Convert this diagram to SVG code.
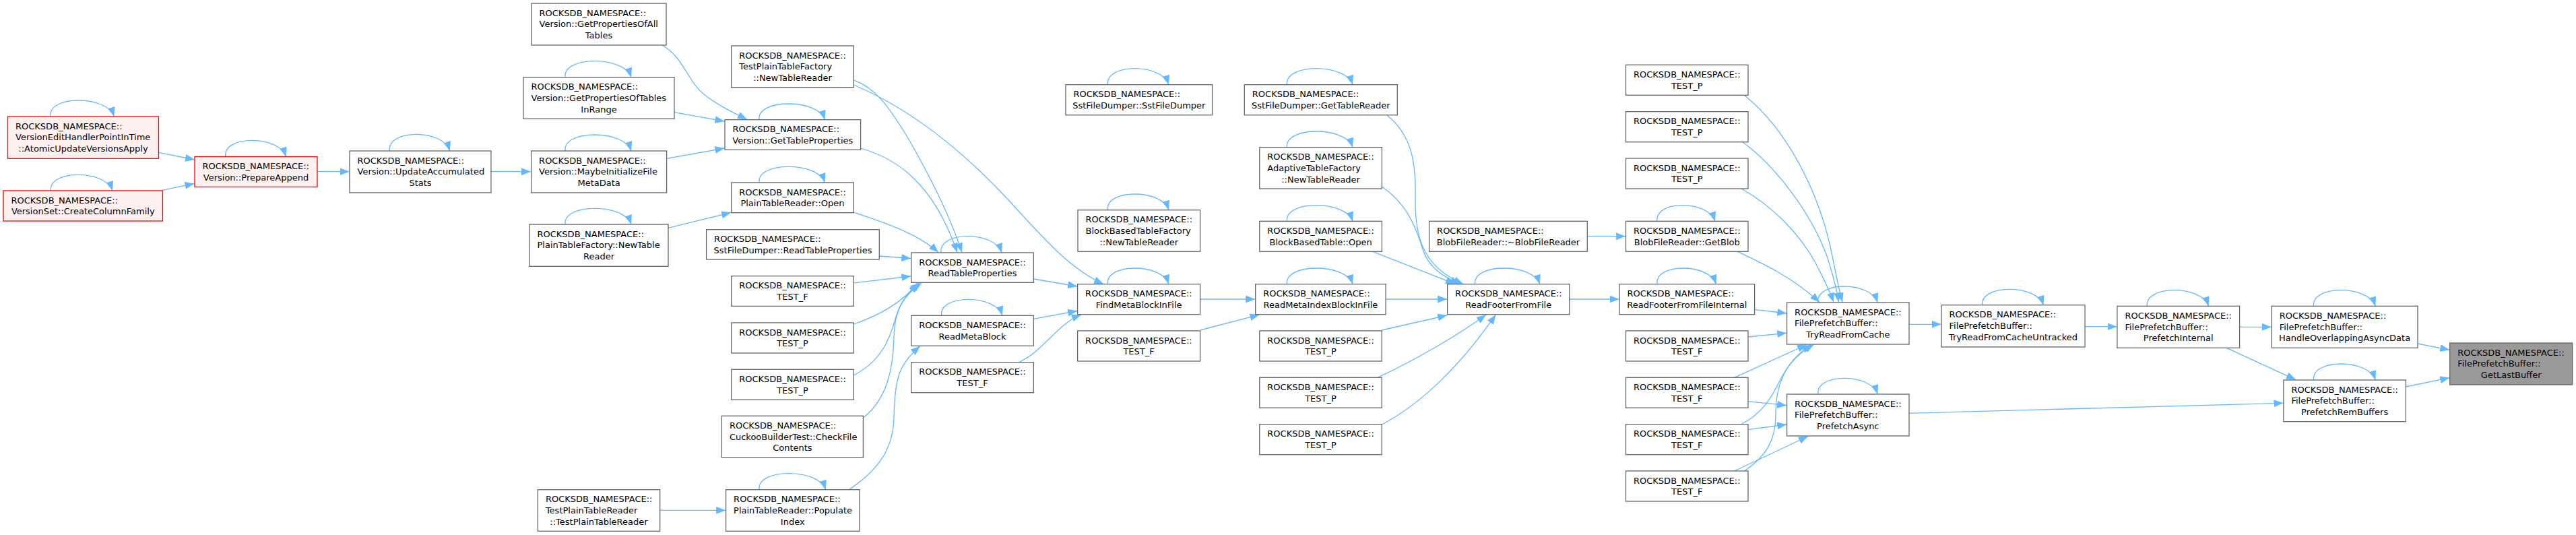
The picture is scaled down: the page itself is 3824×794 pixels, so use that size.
<svg xmlns="http://www.w3.org/2000/svg" width="3824" height="794" viewBox="0 0 3824 794">
<style>
.n rect{fill:#ffffff;stroke:#666666;stroke-width:1.3}
.r rect{fill:#fff0f0;stroke:#ff0000;stroke-width:1.3}
.g rect{fill:#999999;stroke:#666666;stroke-width:1.3}
text{font-family:"DejaVu Sans","Liberation Sans",sans-serif;font-size:13px;fill:#000000}
.c{text-anchor:middle}
#edges path{fill:none;stroke:#63b8ff;stroke-width:1.3;marker-end:url(#ah)}
</style>
<defs>
<marker id="ah" markerUnits="userSpaceOnUse" markerWidth="14" markerHeight="11" refX="14" refY="5.5" orient="auto"><path d="M0,0 L14,5.5 L0,11 z" fill="#63b8ff"/></marker>
</defs>
<rect x="0" y="0" width="3824" height="794" fill="#ffffff"/>
<g id="edges">
<path d="M235.5,226.3 L289,237"/>
<path d="M240.8,282.3 L288.5,272.5"/>
<path d="M471,254.7 L518.5,254.7"/>
<path d="M729,254.7 L788,254.7"/>
<path d="M983,67 C1015,85 1020,120 1045,140 C1065,156 1090,168 1109,177.2"/>
<path d="M1000.8,166.7 L1075.5,180"/>
<path d="M989.4,235.3 L1075.5,220"/>
<path d="M991.8,338.3 L1085.2,315.5"/>
<path d="M979.6,757.3 L1077.2,757.3"/>
<path d="M1277.6,220 C1330,235 1385,270 1421,374.5"/>
<path d="M1267.3,315 C1310,330 1360,345 1393,374.5"/>
<path d="M1305.3,380 L1352.2,383.5"/>
<path d="M1267.3,119 C1300,130 1320,160 1345,200 C1380,260 1410,320 1428,374.5"/>
<path d="M1267.3,126 C1360,165 1440,235 1500,300 C1550,355 1590,400 1638,421.5"/>
<path d="M1267.3,420 L1352.2,410"/>
<path d="M1267.3,481 C1300,470 1340,450 1362,420"/>
<path d="M1267.3,557 C1310,535 1322,500 1330,470 C1338,445 1350,432 1365,420"/>
<path d="M1281.5,620 C1320,590 1326,540 1327,500 C1328,460 1340,440 1368,420"/>
<path d="M1260.4,726.7 C1300,700 1326,670 1327,620 C1328,560 1335,540 1366,513.8"/>
<path d="M1534.3,414 L1599.2,425"/>
<path d="M1534.3,473.3 L1599.2,461.5"/>
<path d="M1512.7,537.7 C1550,520 1570,480 1605,467.2"/>
<path d="M1781.6,444 L1863.2,444"/>
<path d="M1781.6,490 L1869.5,467.2"/>
<path d="M2057.1,444 L2148.2,444"/>
<path d="M2051.2,490 L2148.2,468"/>
<path d="M2045,560.3 C2100,535 2160,500 2206,467.2"/>
<path d="M2051.2,630 C2110,600 2170,540 2220.4,467.2"/>
<path d="M2059,171 C2095,200 2102,240 2101,290 C2100,350 2110,395 2172,421.3"/>
<path d="M2051.4,277 C2085,300 2100,330 2112,370 C2120,395 2140,410 2167,421.3"/>
<path d="M2037.6,373.3 L2160,421.3"/>
<path d="M2329.8,444 L2403.6,444"/>
<path d="M2356.3,350.7 L2413.1,350.7"/>
<path d="M2589.4,141.3 C2650,190 2700,280 2720,380 C2726,410 2730,430 2735,448.5"/>
<path d="M2587,210.7 C2640,250 2690,320 2712,380 C2720,405 2726,425 2729.5,448.5"/>
<path d="M2585,280 C2630,305 2670,345 2695,390 C2705,410 2715,428 2722,448.5"/>
<path d="M2579,373.3 C2610,388 2660,410 2701,448.5"/>
<path d="M2604.6,459.3 L2652.2,465"/>
<path d="M2595,500 L2652.2,494.3"/>
<path d="M2574.7,560.3 L2682,511.5"/>
<path d="M2585,629.5 C2615,615 2630,590 2642,565 C2655,540 2668,525 2688.4,511.5"/>
<path d="M2589.4,699 C2625,675 2636,650 2636,615 C2636,570 2650,535 2692.6,511.5"/>
<path d="M2595,595.7 L2652.2,601.7"/>
<path d="M2595,637.7 L2652.2,630"/>
<path d="M2574.7,699 L2684,647.5"/>
<path d="M2834,481.3 L2881.6,481.3"/>
<path d="M2834,613.3 L3389.5,598.3"/>
<path d="M3095,484.7 L3142.5,484.7"/>
<path d="M3324.6,485.3 L3371.8,485.3"/>
<path d="M3305.3,516.3 L3408,563.6"/>
<path d="M3589,510 L3636.3,519.3"/>
<path d="M3571.4,574 L3636.3,560.7"/>
<path d="M74.7,173 C70.7,141 159.4,141 169.4,173"/>
<path d="M75.5,283 C71.5,251.4 157,251.4 167,283"/>
<path d="M334.7,232.5 C330.7,200.2 414.5,200.2 424.5,232.5"/>
<path d="M578.4,224 C574.4,191.1 657.8,191.1 667.8,224"/>
<path d="M839,114.7 C835,82.7 927,82.7 937,114.7"/>
<path d="M839,224 C835,192 927,192 937,224"/>
<path d="M839,333 C835,301.4 927,301.4 937,333"/>
<path d="M1127,177.7 C1123,146.1 1214.5,146.1 1224.5,177.7"/>
<path d="M1127,271 C1123,239.4 1214.5,239.4 1224.5,271"/>
<path d="M1127,726.7 C1123,694.7 1215.7,694.7 1225.7,726.7"/>
<path d="M1397,375 C1393,342.6 1477,342.6 1487,375"/>
<path d="M1397.6,468.3 C1393.6,436.3 1478,436.3 1488,468.3"/>
<path d="M1644.5,421.7 C1640.5,390.1 1725,390.1 1735,421.7"/>
<path d="M1644.5,125.7 C1640.5,93.7 1725,93.7 1735,125.7"/>
<path d="M1644.5,311.7 C1640.5,280.1 1725,280.1 1735,311.7"/>
<path d="M1910.6,421.7 C1906.6,390.1 1998,390.1 2008,421.7"/>
<path d="M1910.6,125.7 C1906.6,93.7 1998,93.7 2008,125.7"/>
<path d="M1910.6,218.7 C1906.6,187.1 1998,187.1 2008,218.7"/>
<path d="M1910.6,328.3 C1906.6,296.8 1998,296.8 2008,328.3"/>
<path d="M2189.8,421.7 C2185.8,390.1 2275.7,390.1 2285.7,421.7"/>
<path d="M2460,421.7 C2456,390.1 2537.4,390.1 2547.4,421.7"/>
<path d="M2460,328.3 C2456,296.8 2536,296.8 2546,328.3"/>
<path d="M2698.9,449 C2694.9,417 2777.3,417 2787.3,449"/>
<path d="M2943,452.7 C2939,421.5 3023.5,421.5 3033.5,452.7"/>
<path d="M2698.9,585 C2694.9,553.4 2777.3,553.4 2787.3,585"/>
<path d="M3187.4,454.3 C3183.4,422.8 3268.6,422.8 3278.6,454.3"/>
<path d="M3434.6,454.3 C3430.6,422.8 3516.2,422.8 3526.2,454.3"/>
<path d="M3434.6,564 C3430.6,532 3516.2,532 3526.2,564"/>
</g>
<g id="n_auva" class="r"><rect x="11.5" y="173" width="224" height="62.3"/><text x="23" y="191.5">ROCKSDB_NAMESPACE::</text><text x="23" y="208.2">VersionEditHandlerPointInTime</text><text class="c" x="123.5" y="224.9">::AtomicUpdateVersionsApply</text></g>
<g id="n_ccf" class="r"><rect x="5" y="283" width="236.5" height="45"/><text x="16.5" y="301.5">ROCKSDB_NAMESPACE::</text><text class="c" x="123.25" y="318.2">VersionSet::CreateColumnFamily</text></g>
<g id="n_pa" class="r"><rect x="289" y="232.5" width="182" height="45"/><text x="300.5" y="251">ROCKSDB_NAMESPACE::</text><text class="c" x="380" y="267.7">Version::PrepareAppend</text></g>
<g id="n_uas" class="n"><rect x="519" y="224" width="210" height="62"/><text x="530.5" y="242.5">ROCKSDB_NAMESPACE::</text><text x="530.5" y="259.2">Version::UpdateAccumulated</text><text class="c" x="624" y="275.9">Stats</text></g>
<g id="n_gpoat" class="n"><rect x="789" y="5" width="200" height="62"/><text x="800.5" y="23.5">ROCKSDB_NAMESPACE::</text><text x="800.5" y="40.2">Version::GetPropertiesOfAll</text><text class="c" x="889" y="56.9">Tables</text></g>
<g id="n_gpotir" class="n"><rect x="777" y="114.7" width="224" height="61.6"/><text x="788.5" y="133.2">ROCKSDB_NAMESPACE::</text><text x="788.5" y="149.9">Version::GetPropertiesOfTables</text><text class="c" x="889" y="166.6">InRange</text></g>
<g id="n_mifmd" class="n"><rect x="788.6" y="224" width="201" height="62"/><text x="800.1" y="242.5">ROCKSDB_NAMESPACE::</text><text x="800.1" y="259.2">Version::MaybeInitializeFile</text><text class="c" x="889.1" y="275.9">MetaData</text></g>
<g id="n_ptfntr" class="n"><rect x="786" y="333" width="206" height="62.3"/><text x="797.5" y="351.5">ROCKSDB_NAMESPACE::</text><text x="797.5" y="368.2">PlainTableFactory::NewTable</text><text class="c" x="889" y="384.9">Reader</text></g>
<g id="n_gtp" class="n"><rect x="1076" y="177.7" width="201.6" height="44.6"/><text x="1087.5" y="196.2">ROCKSDB_NAMESPACE::</text><text class="c" x="1176.8" y="212.9">Version::GetTableProperties</text></g>
<g id="n_tptfntr" class="n"><rect x="1085.7" y="68" width="181.6" height="61.7"/><text x="1097.2" y="86.5">ROCKSDB_NAMESPACE::</text><text x="1097.2" y="103.2">TestPlainTableFactory</text><text class="c" x="1176.5" y="119.9">::NewTableReader</text></g>
<g id="n_ptro" class="n"><rect x="1085.7" y="271" width="181.6" height="44.7"/><text x="1097.2" y="289.5">ROCKSDB_NAMESPACE::</text><text class="c" x="1176.5" y="306.2">PlainTableReader::Open</text></g>
<g id="n_sfdrtp" class="n"><rect x="1048.6" y="340.7" width="256.7" height="44.3"/><text x="1060.1" y="359.2">ROCKSDB_NAMESPACE::</text><text class="c" x="1177" y="375.9">SstFileDumper::ReadTableProperties</text></g>
<g id="n_testf1" class="n"><rect x="1085.7" y="409.7" width="181.6" height="44.7"/><text x="1097.2" y="428.2">ROCKSDB_NAMESPACE::</text><text class="c" x="1176.5" y="444.9">TEST_F</text></g>
<g id="n_testp1" class="n"><rect x="1085.7" y="479" width="181.6" height="45"/><text x="1097.2" y="497.5">ROCKSDB_NAMESPACE::</text><text class="c" x="1176.5" y="514.2">TEST_P</text></g>
<g id="n_testp2" class="n"><rect x="1085.7" y="548.3" width="181.6" height="45"/><text x="1097.2" y="566.8">ROCKSDB_NAMESPACE::</text><text class="c" x="1176.5" y="583.5">TEST_P</text></g>
<g id="n_cuckoo" class="n"><rect x="1071.4" y="617.3" width="210" height="61.7"/><text x="1082.9" y="635.8">ROCKSDB_NAMESPACE::</text><text x="1082.9" y="652.5">CuckooBuilderTest::CheckFile</text><text class="c" x="1176.4" y="669.2">Contents</text></g>
<g id="n_tptr" class="n"><rect x="798.4" y="726.7" width="181.2" height="61.6"/><text x="809.9" y="745.2">ROCKSDB_NAMESPACE::</text><text x="809.9" y="761.9">TestPlainTableReader</text><text class="c" x="889" y="778.6">::TestPlainTableReader</text></g>
<g id="n_ptrpi" class="n"><rect x="1077.6" y="726.7" width="198.3" height="61.6"/><text x="1089.1" y="745.2">ROCKSDB_NAMESPACE::</text><text x="1089.1" y="761.9">PlainTableReader::Populate</text><text class="c" x="1176.75" y="778.6">Index</text></g>
<g id="n_rtp" class="n"><rect x="1352.7" y="375" width="181.6" height="44.3"/><text x="1364.2" y="393.5">ROCKSDB_NAMESPACE::</text><text class="c" x="1443.5" y="410.2">ReadTableProperties</text></g>
<g id="n_rmb" class="n"><rect x="1352.7" y="468.3" width="181.6" height="45"/><text x="1364.2" y="486.8">ROCKSDB_NAMESPACE::</text><text class="c" x="1443.5" y="503.5">ReadMetaBlock</text></g>
<g id="n_testf2" class="n"><rect x="1352.7" y="537.7" width="181.6" height="45"/><text x="1364.2" y="556.2">ROCKSDB_NAMESPACE::</text><text class="c" x="1443.5" y="572.9">TEST_F</text></g>
<g id="n_fmbif" class="n"><rect x="1599.6" y="421.7" width="182" height="45"/><text x="1611.1" y="440.2">ROCKSDB_NAMESPACE::</text><text class="c" x="1690.6" y="456.9">FindMetaBlockInFile</text></g>
<g id="n_testf3" class="n"><rect x="1599.6" y="491" width="182" height="45"/><text x="1611.1" y="509.5">ROCKSDB_NAMESPACE::</text><text class="c" x="1690.6" y="526.2">TEST_F</text></g>
<g id="n_sfdsfd" class="n"><rect x="1582" y="125.7" width="217.6" height="45"/><text x="1593.5" y="144.2">ROCKSDB_NAMESPACE::</text><text class="c" x="1690.8" y="160.9">SstFileDumper::SstFileDumper</text></g>
<g id="n_bbtfntr" class="n"><rect x="1600" y="311.7" width="181.6" height="61.6"/><text x="1611.5" y="330.2">ROCKSDB_NAMESPACE::</text><text x="1611.5" y="346.9">BlockBasedTableFactory</text><text class="c" x="1690.8" y="363.6">::NewTableReader</text></g>
<g id="n_rmibif" class="n"><rect x="1863.7" y="421.7" width="193.4" height="45"/><text x="1875.2" y="440.2">ROCKSDB_NAMESPACE::</text><text class="c" x="1960.4" y="456.9">ReadMetaIndexBlockInFile</text></g>
<g id="n_testpa" class="n"><rect x="1869.8" y="491" width="181.4" height="45"/><text x="1881.3" y="509.5">ROCKSDB_NAMESPACE::</text><text class="c" x="1960.5" y="526.2">TEST_P</text></g>
<g id="n_testpb" class="n"><rect x="1869.8" y="560.3" width="181.4" height="45"/><text x="1881.3" y="578.8">ROCKSDB_NAMESPACE::</text><text class="c" x="1960.5" y="595.5">TEST_P</text></g>
<g id="n_testpc" class="n"><rect x="1869.8" y="629.7" width="181.4" height="45"/><text x="1881.3" y="648.2">ROCKSDB_NAMESPACE::</text><text class="c" x="1960.5" y="664.9">TEST_P</text></g>
<g id="n_sfdgtr" class="n"><rect x="1847.3" y="125.7" width="227" height="45"/><text x="1858.8" y="144.2">ROCKSDB_NAMESPACE::</text><text class="c" x="1960.8" y="160.9">SstFileDumper::GetTableReader</text></g>
<g id="n_atfntr" class="n"><rect x="1869.8" y="218.7" width="181.6" height="61.3"/><text x="1881.3" y="237.2">ROCKSDB_NAMESPACE::</text><text x="1881.3" y="253.9">AdaptiveTableFactory</text><text class="c" x="1960.6" y="270.6">::NewTableReader</text></g>
<g id="n_bbto" class="n"><rect x="1869.8" y="328.3" width="181.6" height="45"/><text x="1881.3" y="346.8">ROCKSDB_NAMESPACE::</text><text class="c" x="1960.6" y="363.5">BlockBasedTable::Open</text></g>
<g id="n_rfff" class="n"><rect x="2148.6" y="421.7" width="181.2" height="45"/><text x="2160.1" y="440.2">ROCKSDB_NAMESPACE::</text><text class="c" x="2239.2" y="456.9">ReadFooterFromFile</text></g>
<g id="n_bfrdtor" class="n"><rect x="2121.6" y="328.3" width="234.7" height="45"/><text x="2133.1" y="346.8">ROCKSDB_NAMESPACE::</text><text class="c" x="2239" y="363.5">BlobFileReader::~BlobFileReader</text></g>
<g id="n_rfffi" class="n"><rect x="2404" y="421.7" width="200.6" height="45"/><text x="2415.5" y="440.2">ROCKSDB_NAMESPACE::</text><text class="c" x="2504.3" y="456.9">ReadFooterFromFileInternal</text></g>
<g id="n_testfa" class="n"><rect x="2413.5" y="491" width="181.5" height="45"/><text x="2425" y="509.5">ROCKSDB_NAMESPACE::</text><text class="c" x="2504.25" y="526.2">TEST_F</text></g>
<g id="n_testfb" class="n"><rect x="2413.5" y="560.3" width="181.5" height="45"/><text x="2425" y="578.8">ROCKSDB_NAMESPACE::</text><text class="c" x="2504.25" y="595.5">TEST_F</text></g>
<g id="n_testfc" class="n"><rect x="2413.5" y="629.7" width="181.5" height="45"/><text x="2425" y="648.2">ROCKSDB_NAMESPACE::</text><text class="c" x="2504.25" y="664.9">TEST_F</text></g>
<g id="n_testfd" class="n"><rect x="2413.5" y="699" width="181.5" height="45"/><text x="2425" y="717.5">ROCKSDB_NAMESPACE::</text><text class="c" x="2504.25" y="734.2">TEST_F</text></g>
<g id="n_testpx1" class="n"><rect x="2413.5" y="96.3" width="181.5" height="45"/><text x="2425" y="114.8">ROCKSDB_NAMESPACE::</text><text class="c" x="2504.25" y="131.5">TEST_P</text></g>
<g id="n_testpx2" class="n"><rect x="2413.5" y="165.7" width="181.5" height="45"/><text x="2425" y="184.2">ROCKSDB_NAMESPACE::</text><text class="c" x="2504.25" y="200.9">TEST_P</text></g>
<g id="n_testpx3" class="n"><rect x="2413.5" y="235" width="181.5" height="45"/><text x="2425" y="253.5">ROCKSDB_NAMESPACE::</text><text class="c" x="2504.25" y="270.2">TEST_P</text></g>
<g id="n_bfrgb" class="n"><rect x="2413.5" y="328.3" width="181.5" height="45"/><text x="2425" y="346.8">ROCKSDB_NAMESPACE::</text><text class="c" x="2504.25" y="363.5">BlobFileReader::GetBlob</text></g>
<g id="n_trfc" class="n"><rect x="2652.6" y="449" width="181.4" height="62"/><text x="2664.1" y="467.5">ROCKSDB_NAMESPACE::</text><text x="2664.1" y="484.2">FilePrefetchBuffer::</text><text class="c" x="2743.3" y="500.9">TryReadFromCache</text></g>
<g id="n_pa2" class="n"><rect x="2652.6" y="585" width="181.4" height="62"/><text x="2664.1" y="603.5">ROCKSDB_NAMESPACE::</text><text x="2664.1" y="620.2">FilePrefetchBuffer::</text><text class="c" x="2743.3" y="636.9">PrefetchAsync</text></g>
<g id="n_trfcu" class="n"><rect x="2882" y="452.7" width="213" height="62.3"/><text x="2893.5" y="471.2">ROCKSDB_NAMESPACE::</text><text x="2893.5" y="487.9">FilePrefetchBuffer::</text><text class="c" x="2988.5" y="504.6">TryReadFromCacheUntracked</text></g>
<g id="n_pi" class="n"><rect x="3142.9" y="454.3" width="181.7" height="62"/><text x="3154.4" y="472.8">ROCKSDB_NAMESPACE::</text><text x="3154.4" y="489.5">FilePrefetchBuffer::</text><text class="c" x="3233.75" y="506.2">PrefetchInternal</text></g>
<g id="n_hoad" class="n"><rect x="3372.2" y="454.3" width="216.8" height="62"/><text x="3383.7" y="472.8">ROCKSDB_NAMESPACE::</text><text x="3383.7" y="489.5">FilePrefetchBuffer::</text><text class="c" x="3480.6" y="506.2">HandleOverlappingAsyncData</text></g>
<g id="n_prb" class="n"><rect x="3389.9" y="564" width="181.5" height="61.7"/><text x="3401.4" y="582.5">ROCKSDB_NAMESPACE::</text><text x="3401.4" y="599.2">FilePrefetchBuffer::</text><text class="c" x="3480.65" y="615.9">PrefetchRemBuffers</text></g>
<g id="n_glb" class="g"><rect x="3636.7" y="509" width="182" height="62"/><text x="3648.2" y="527.5">ROCKSDB_NAMESPACE::</text><text x="3648.2" y="544.2">FilePrefetchBuffer::</text><text class="c" x="3727.7" y="560.9">GetLastBuffer</text></g>
</svg>
